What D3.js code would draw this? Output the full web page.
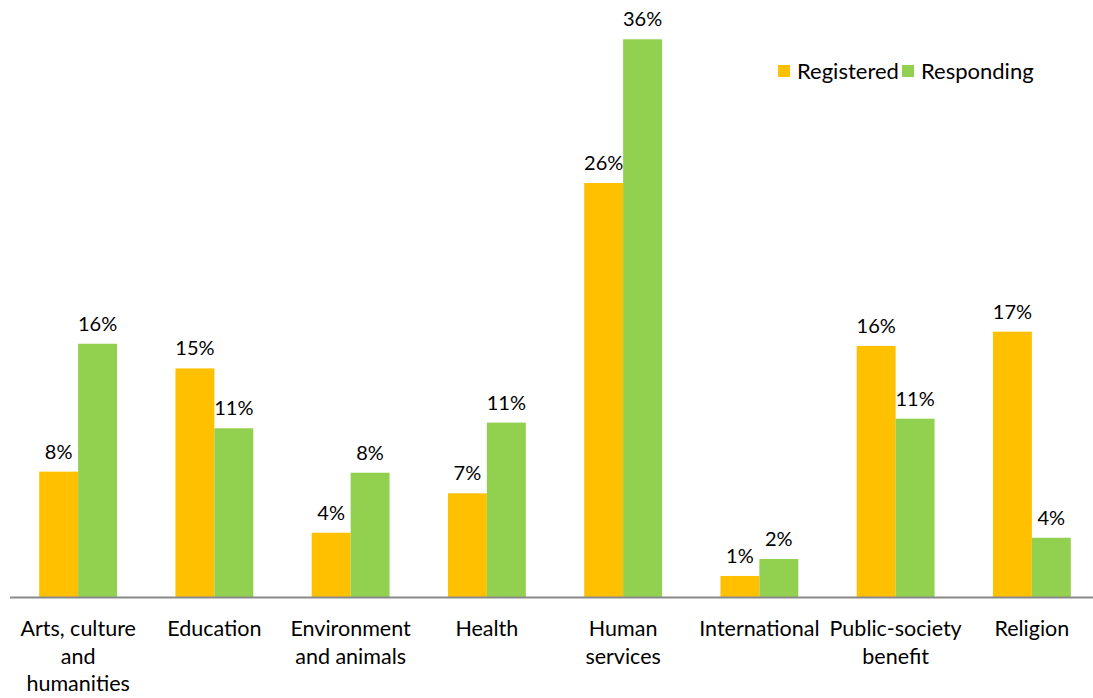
<!DOCTYPE html>
<html>
<head>
<meta charset="utf-8">
<script src="https://cdn.jsdelivr.net/npm/d3@7"></script>
<style>
  body { margin: 0; background: #fff; }
  text { font-family: Lato, "Open Sans", sans-serif; fill: #000; }
</style>
</head>
<body>
<div id="chart"></div>
<script>
(function() {
    var width = 1093,
        height = 698;

    var categories = ["Arts, culture and humanities", "Education", "Environment and animals", "Health",
        "Human services", "International", "Public-society benefit", "Religion"];
    var categoryLines = [["Arts, culture", "and", "humanities"], ["Education"], ["Environment", "and animals"], ["Health"],
        ["Human", "services"], ["International"], ["Public-society", "benefit"], ["Religion"]];
    var seriesNames = ["Registered", "Responding"];
    var registered = [7.98, 14.55, 4.09, 6.6, 26.35, 1.34, 15.98, 16.89];
    var responding = [16.12, 10.74, 7.91, 11.1, 35.5, 2.42, 11.35, 3.77];
    var colors = ["#FFC000", "#92D050"];

    var svg = d3.select("#chart")
        .append("svg")
        .attr("width", width)
        .attr("height", height)

    var x = d3.scaleBand().domain(categories).range([10, 1100]).paddingInner(0).paddingOuter(0)
    var inner = d3.scaleBand().domain(seriesNames).range([0, x.bandwidth()]).paddingInner(0).paddingOuter(0.75)
    var y = d3.scaleLinear().domain([0, 38]).range([597, 0])

    var rows = categories.map(function(c, i) {
        return { cat: c, lines: categoryLines[i], values: [registered[i], responding[i]] }
    })

    var groups = svg.selectAll(".group")
        .data(rows)
        .enter().append("g")
        .attr("class", "group")
        .attr("transform", function(d) { return "translate(" + x(d.cat) + ",0)" })

    var bars = groups.selectAll("rect")
        .data(function(d) { return d.values.map(function(v, j) { return { s: seriesNames[j], v: v, j: j } }) })
        .enter()

    bars.append("rect")
        .attr("x", function(d) { return inner(d.s) })
        .attr("width", inner.bandwidth())
        .attr("y", function(d) { return y(d.v) })
        .attr("height", function(d) { return y(0) - y(d.v) })
        .attr("fill", function(d) { return colors[d.j] })

    bars.append("text")
        .attr("x", function(d) { return inner(d.s) + inner.bandwidth() / 2 })
        .attr("y", function(d) { return y(d.v) - 13 })
        .attr("text-anchor", "middle")
        .style("font-size", "20px")
        .text(function(d) { return Math.round(d.v) + "%" })

    // axis line
    svg.append("line")
        .attr("x1", 10).attr("x2", width)
        .attr("y1", y(0) + 0.5).attr("y2", y(0) + 0.5)
        .attr("stroke", "#898989")
        .attr("stroke-width", 2)

    // category labels
    groups.append("text")
        .attr("text-anchor", "middle")
        .style("font-size", "21.5px")
        .selectAll("tspan")
        .data(function(d) { return d.lines })
        .enter().append("tspan")
        .attr("x", x.bandwidth() / 2)
        .attr("y", function(d, i) { return 636 + i * 27.5 })
        .text(function(d) { return d })

    // legend
    var legendX = [778, 902]
    var legend = svg.selectAll(".legend")
        .data(seriesNames)
        .enter().append("g")
        .attr("class", "legend")
        .attr("transform", function(d, i) { return "translate(" + legendX[i] + ",65)" })

    legend.append("rect")
        .attr("width", 12).attr("height", 12)
        .attr("fill", function(d, i) { return colors[i] })

    legend.append("text")
        .attr("x", 19).attr("y", 14)
        .style("font-size", "22px")
        .text(function(d) { return d })
})();
</script>
</body>
</html>
